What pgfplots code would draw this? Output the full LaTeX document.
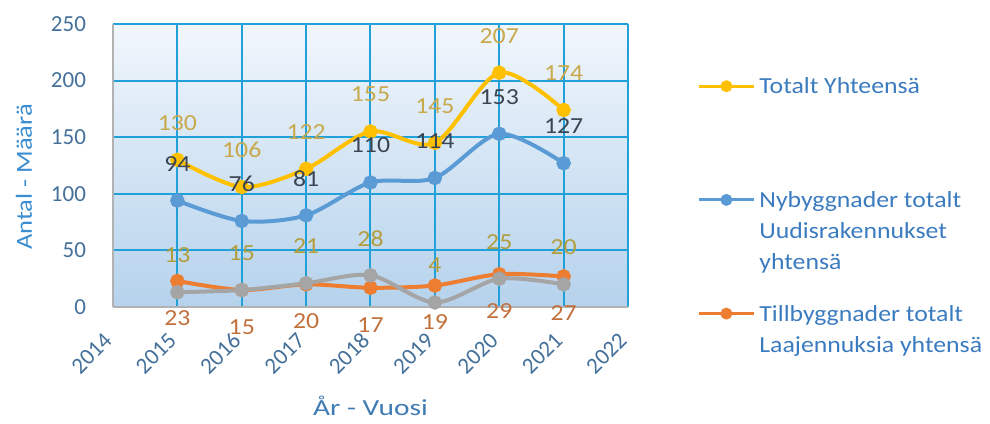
\documentclass[border=0pt]{standalone}
\usepackage{fontspec}
\setmainfont{Carlito}
\newfontfamily\xlabfont[FakeStretch=1.28]{Carlito}
\newfontfamily\ylabfont[FakeStretch=1.15]{Carlito}
\newfontfamily\legfont[FakeStretch=1.12]{Carlito}
\newfontfamily\datfont[FakeStretch=1.12]{Carlito}
\usepackage{pgfplots}
\pgfplotsset{compat=1.18}

\definecolor{cYel}{HTML}{FFC000}
\definecolor{cBlu}{HTML}{5B9BD5}
\definecolor{cOra}{HTML}{ED7D31}
\definecolor{cGra}{HTML}{A5A5A5}
\definecolor{cGrid}{HTML}{22A0DA}
\definecolor{cTick}{HTML}{44709A}
\definecolor{cYlab}{HTML}{3A8DD0}
\definecolor{cXlab}{HTML}{3F7CB3}
\definecolor{cLeg}{HTML}{3B7BBF}
\definecolor{lYel}{HTML}{C8A94C}
\definecolor{lBlu}{HTML}{3A4452}
\definecolor{lOra}{HTML}{C2703C}
\definecolor{lGra}{HTML}{B39E3E}

\newcommand{\lab}{\fontsize{11.5}{14}\selectfont}

\begin{document}
\begin{tikzpicture}
\useasboundingbox (-56.5pt,-58pt) rectangle (438.5pt,153.5pt);
\begin{axis}[
  scale only axis, width=257.5pt, height=141.5pt,
  xmin=2014, xmax=2022, ymin=0, ymax=250,
  xtick={2014,...,2022}, ytick={0,50,...,250},
  minor xtick={2015,...,2022}, minor ytick={50,100,...,250},
  xminorgrids=true, yminorgrids=true,
  minor grid style={cGrid, line width=1pt},
  axis lines=left,
  axis line style={-, draw=gray!60, line width=0.6pt},
  major tick length=0pt, minor tick length=0pt,
  axis background/.style={top color=blue!4!cBlu!8!white, bottom color=cBlu!45!white},
  /pgf/number format/assume math mode=true,
  x tick label style={/pgf/number format/1000 sep={}},
  tick label style={font=\lab, text=cTick},
  xticklabel style={rotate=45, anchor=east},
  xticklabel shift=12.5pt,
  yticklabel shift=10pt,
  xlabel={År - Vuosi},
  xlabel style={at={([yshift=-49.5pt]axis description cs:0.5,0)}, anchor=center, font=\xlabfont\lab, text=cXlab},
  ylabel={Antal - Määrä},
  ylabel style={at={([xshift=-44.5pt]axis description cs:0,0.46)}, anchor=center, font=\ylabfont\lab, text=cYlab},
  legend style={draw=none, fill=none, inner sep=0pt, at={(rel axis cs:1.134,0.826)}, anchor=north west,
    font=\legfont\fontsize{11.5}{15.5}\selectfont, text=cLeg, cells={anchor=base west}, row sep=40.5pt},
  legend image code/.code={\draw[#1,line width=1.5pt,mark size=2.2pt,mark repeat=2,mark phase=2] plot coordinates {(0pt,3.7pt) (13.75pt,3.7pt) (27.5pt,3.7pt)};},
  every axis plot/.append style={line width=2pt, mark=*, mark size=2.6pt, smooth},
]
\addplot[color=cYel, mark options={fill=cYel, draw=cYel},
  nodes near coords, every node near coord/.append style={anchor=center, yshift=18.5pt, font=\datfont\lab, text=lYel}]
  coordinates {(2015,130) (2016,106) (2017,122) (2018,155) (2019,145) (2020,207) (2021,174)};
\addlegendentry{Totalt Yhteensä}
\addplot[color=cBlu, mark options={fill=cBlu, draw=cBlu},
  nodes near coords, every node near coord/.append style={anchor=center, yshift=18.5pt, font=\datfont\lab, text=lBlu}]
  coordinates {(2015,94) (2016,76) (2017,81) (2018,110) (2019,114) (2020,153) (2021,127)};
\addlegendentry{\begin{tabular}[t]{@{}l@{}}Nybyggnader totalt\\Uudisrakennukset\\yhtensä\end{tabular}}
\addplot[color=cOra, mark options={fill=cOra, draw=cOra},
  nodes near coords, every node near coord/.append style={anchor=center, yshift=-18.5pt, font=\datfont\lab, text=lOra}]
  coordinates {(2015,23) (2016,15) (2017,20) (2018,17) (2019,19) (2020,29) (2021,27)};
\addlegendentry{\begin{tabular}[t]{@{}l@{}}Tillbyggnader totalt\\Laajennuksia yhtensä\end{tabular}}
\addplot[forget plot, color=cGra, mark options={fill=cGra, draw=cGra},
  nodes near coords, every node near coord/.append style={anchor=center, yshift=18.5pt, font=\datfont\lab, text=lGra}]
  coordinates {(2015,13) (2016,15) (2017,21) (2018,28) (2019,4) (2020,25) (2021,20)};
\end{axis}
\end{tikzpicture}
\end{document}
